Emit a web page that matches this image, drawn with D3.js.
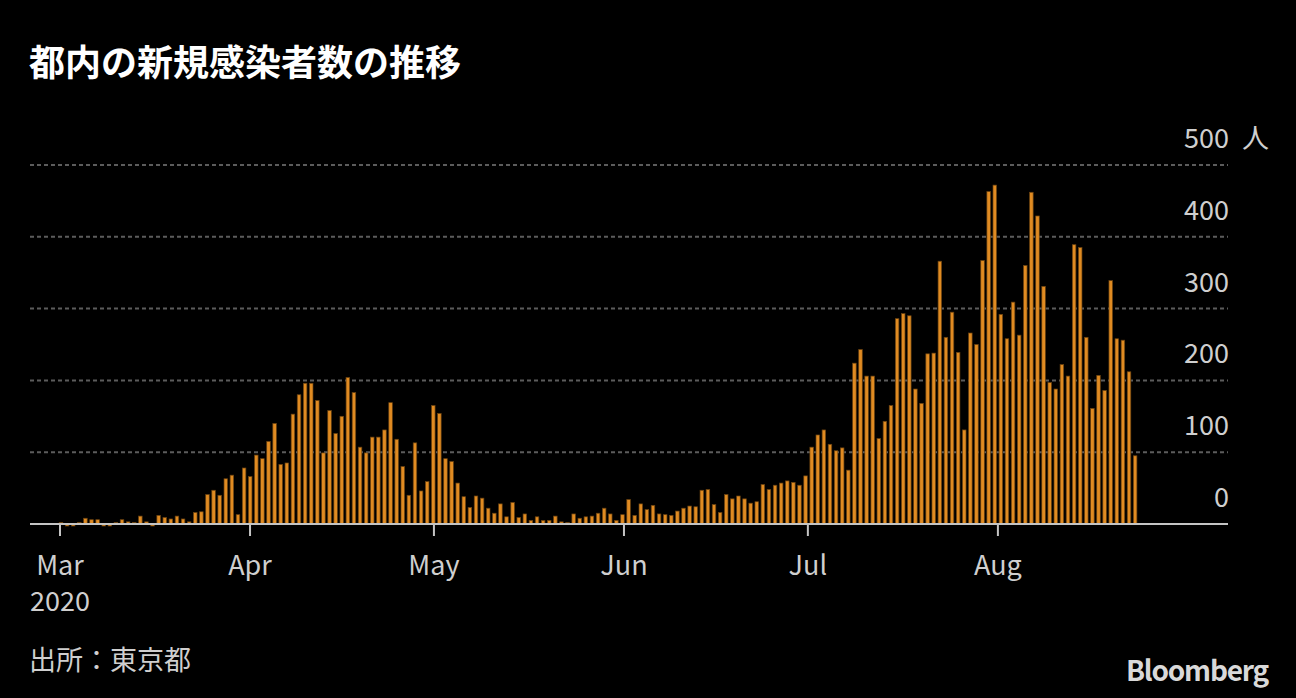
<!DOCTYPE html>
<html>
<head>
    <meta charset="utf-8">
    <title>都内の新規感染者数の推移</title>
    <script src="https://d3js.org/d3.v7.min.js"></script>
    <style>
        body {
            margin: 0;
            background: #000;
        }
        text {
            font-family: "Noto Sans CJK JP", "Noto Sans", sans-serif;
        }
        .bar {
            fill: #e08b22;
            stroke: #6a4210;
            stroke-width: 0.7;
        }
        .grid {
            stroke: #5c5c5c;
            stroke-width: 2;
            stroke-dasharray: 4 3;
        }
        .tick-label {
            fill: #cfcfcf;
            font-size: 27px;
        }
    </style>
</head>
<body>
    <div id="chart"></div>

    <script>

        // daily new cases, Tokyo, 2020 (one array per month)
        const mar = [2, 0, 0, 2, 8, 6, 6, 0, 0, 2, 6, 3, 2, 11, 3, 0, 12, 9, 7, 11, 7, 3, 16, 17, 41, 47, 40, 63, 68, 13, 78];
        const apr = [66, 96, 91, 115, 140, 83, 85, 153, 180, 196, 196, 172, 99, 158, 126, 150, 204, 183, 107, 99, 121, 121, 131, 169, 118, 80, 40, 113, 46, 59];
        const may = [165, 154, 91, 87, 57, 38, 23, 39, 36, 22, 15, 28, 10, 30, 9, 14, 5, 10, 5, 5, 11, 3, 2, 14, 8, 10, 11, 15, 22, 14, 5];
        const jun = [13, 34, 12, 28, 20, 26, 14, 13, 12, 18, 22, 25, 24, 47, 48, 27, 16, 41, 35, 39, 35, 29, 31, 55, 48, 54, 57, 60, 58, 54];
        const jul = [67, 107, 124, 131, 111, 102, 106, 75, 224, 243, 206, 206, 119, 143, 165, 286, 293, 290, 188, 168, 237, 238, 366, 260, 295, 239, 131, 266, 250, 367, 463];
        const aug = [472, 292, 258, 309, 263, 360, 462, 429, 331, 197, 188, 222, 206, 389, 385, 260, 161, 207, 186, 339, 258, 256, 212, 95];

        const monthLabels = ["Mar", "Apr", "May", "Jun", "Jul", "Aug"];
        const yTicks = [0, 100, 200, 300, 400, 500];

        const startDate = new Date(Date.UTC(2020, 2, 1));
        const values = [].concat(mar, apr, may, jun, jul, aug);
        const data = values.map((v, i) => ({ date: d3.utcDay.offset(startDate, i), value: v }));

        const width = 1296;
        const height = 698;

        const svg = d3.select("#chart")
            .append("svg")
            .attr("width", width)
            .attr("height", height);

        svg.append("rect")
            .attr("width", width)
            .attr("height", height)
            .attr("fill", "#000");

        // title
        svg.append("text")
            .attr("x", 29)
            .attr("y", 76)
            .attr("fill", "#fff")
            .attr("font-size", "36px")
            .attr("font-weight", "bold")
            .text("都内の新規感染者数の推移");

        const xBand = d3.scaleBand()
            .domain(data.map(d => d.date))
            .range([57.95, 57.95 + data.length * 6.103])
            .paddingInner(0.42)
            .paddingOuter(0.21);

        const xTime = d3.scaleUtc()
            .domain([startDate, new Date(Date.UTC(2020, 7, 1))])
            .range([60, 997.9]);

        const y = d3.scaleLinear()
            .domain([0, 500])
            .range([524, 165]);

        // gridlines
        svg.selectAll(".grid")
            .data(yTicks.filter(d => d > 0))
            .enter()
            .append("line")
            .attr("class", "grid")
            .attr("x1", 30)
            .attr("x2", 1228)
            .attr("y1", d => y(d))
            .attr("y2", d => y(d));

        // y labels
        svg.selectAll(".y-label")
            .data(yTicks)
            .enter()
            .append("text")
            .attr("class", "tick-label y-label")
            .attr("x", 1229)
            .attr("y", d => y(d) - 17)
            .attr("text-anchor", "end")
            .text(d => d);

        svg.append("text")
            .attr("class", "tick-label")
            .attr("x", 1242)
            .attr("y", y(500) - 17)
            .text("人");

        // bars
        svg.selectAll(".bar")
            .data(data)
            .enter()
            .append("rect")
            .attr("class", "bar")
            .attr("x", d => xBand(d.date))
            .attr("width", xBand.bandwidth())
            .attr("y", d => d.value > 0 ? y(d.value) : y(0))
            .attr("height", d => d.value > 0 ? y(0) - y(d.value) : 2);

        // baseline
        svg.append("line")
            .attr("x1", 30)
            .attr("x2", 1228)
            .attr("y1", y(0))
            .attr("y2", y(0))
            .style("stroke", "#c4c4c4")
            .style("stroke-width", 2);

        // month ticks
        const months = d3.utcMonth.range(startDate, new Date(Date.UTC(2020, 8, 1)));

        svg.selectAll(".x-tick")
            .data(months)
            .enter()
            .append("line")
            .attr("class", "x-tick")
            .attr("x1", d => xTime(d))
            .attr("x2", d => xTime(d))
            .attr("y1", y(0))
            .attr("y2", 536)
            .style("stroke", "#c4c4c4")
            .style("stroke-width", 2);

        svg.selectAll(".x-label")
            .data(months)
            .enter()
            .append("text")
            .attr("class", "tick-label x-label")
            .attr("x", d => xTime(d))
            .attr("y", 575)
            .attr("text-anchor", "middle")
            .text((d, i) => monthLabels[i]);

        svg.append("text")
            .attr("class", "tick-label")
            .attr("x", xTime(startDate))
            .attr("y", 611)
            .attr("text-anchor", "middle")
            .text("2020");

        // source
        svg.append("text")
            .attr("class", "tick-label")
            .attr("x", 29)
            .attr("y", 670)
            .attr("font-size", "26px")
            .text("出所：東京都");

        // logo
        svg.append("text")
            .attr("x", 1268)
            .attr("y", 681)
            .attr("text-anchor", "end")
            .attr("fill", "#d9d9d9")
            .attr("font-family", "'Liberation Sans', Arial, sans-serif")
            .attr("font-size", "28px")
            .attr("font-weight", "bold")
            .attr("letter-spacing", "-1.2")
            .text("Bloomberg");

    </script>
</body>
</html>
